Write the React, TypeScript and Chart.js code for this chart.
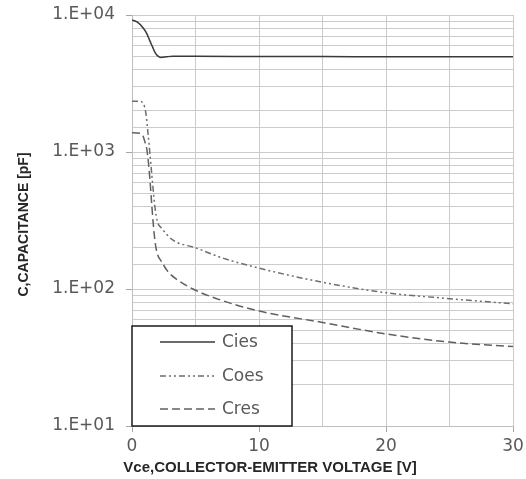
import React, { useEffect, useRef } from 'react';
import { Chart, registerables } from 'chart.js';

Chart.register(...registerables);

const ciesV = [0, 0.4, 0.9, 1.2, 1.4, 1.6, 1.8, 2.0, 2.3, 2.7, 3.2, 5, 10, 15, 20, 25, 30];
const ciesC = [9200, 8900, 8000, 7200, 6500, 5900, 5350, 5050, 4900, 4950, 5000, 4990, 4980, 4970, 4960, 4950, 4950];

const coesV = [0, 0.6, 0.9, 1.1, 1.25, 1.4, 1.6, 1.8, 2.0, 2.3, 3.2, 5, 7, 10, 15, 20, 25, 30];
const coesC = [2350, 2340, 2250, 1900, 1400, 1000, 620, 400, 310, 280, 228, 200, 170, 142, 112, 94, 85, 78];

const cresV = [0, 0.6, 0.85, 1.0, 1.2, 1.4, 1.55, 1.7, 1.85, 2.0, 2.3, 2.8, 3.5, 5, 7, 10, 15, 20, 25, 30];
const cresC = [1380, 1370, 1320, 1200, 1000, 650, 420, 280, 210, 180, 160, 135, 118, 98, 83, 69, 57, 47, 41, 38];

const seriesNames = ['Cies', 'Coes', 'Cres'];
const xMin = 0;
const xMax = 30;
const yMin = 10;
const yMax = 10000;
const xTitle = 'Vce,COLLECTOR-EMITTER VOLTAGE [V]';
const yTitle = 'C,CAPACITANCE [pF]';

const toPts = (xs: number[], ys: number[]) => xs.map((x, i) => ({ x, y: ys[i] }));

const isPow10 = (v: number) => {
  const l = Math.log10(v);
  return Math.abs(l - Math.round(l)) < 1e-9;
};

const extrasPlugin = {
  id: 'extras',
  afterDraw(chart: any) {
    const { ctx, chartArea } = chart;
    const ca = chartArea;
    ctx.save();
    // axis titles
    ctx.fillStyle = '#262626';
    ctx.font = 'bold 15px "Liberation Sans Narrow", "Liberation Sans", sans-serif';
    ctx.textAlign = 'center';
    ctx.textBaseline = 'middle';
    ctx.fillText(xTitle, 270, 468);
    ctx.save();
    ctx.translate(24, (ca.top + ca.bottom) / 2 + 4);
    ctx.rotate(-Math.PI / 2);
    ctx.font = 'bold 14px "Liberation Sans Narrow", "Liberation Sans", sans-serif';
    ctx.fillText(yTitle, 0, 0);
    ctx.restore();

    // legend box
    const bx = ca.left;
    const bw = 160;
    const bh = 100;
    const by = ca.bottom - bh;
    ctx.fillStyle = '#ffffff';
    ctx.fillRect(bx, by, bw, bh);
    ctx.strokeStyle = '#1a1a1a';
    ctx.lineWidth = 1.5;
    ctx.strokeRect(bx, by, bw, bh);
    const rows = [16, 50, 83];
    chart.data.datasets.forEach((ds: any, i: number) => {
      const y = by + rows[i];
      ctx.beginPath();
      ctx.setLineDash(ds.borderDash || []);
      ctx.strokeStyle = ds.borderColor;
      ctx.lineWidth = ds.borderWidth;
      ctx.moveTo(bx + 28, y);
      ctx.lineTo(bx + 83, y);
      ctx.stroke();
      ctx.setLineDash([]);
      ctx.fillStyle = '#595959';
      ctx.font = '17px "DejaVu Sans", sans-serif';
      ctx.textAlign = 'left';
      ctx.textBaseline = 'middle';
      ctx.fillText(ds.label, bx + 90, y + 1);
    });
    ctx.restore();
  },
};

export default function App() {
  const ref = useRef<HTMLCanvasElement | null>(null);
  useEffect(() => {
    if (!ref.current) return;
    const chart = new Chart(ref.current, {
      type: 'line',
      data: {
        datasets: [
          {
            label: seriesNames[0],
            data: toPts(ciesV, ciesC),
            borderColor: '#3a3a3a',
            borderWidth: 1.5,
            pointRadius: 0,
            cubicInterpolationMode: 'monotone',
          },
          {
            label: seriesNames[1],
            data: toPts(coesV, coesC),
            borderColor: '#6e6e6e',
            borderWidth: 1.5,
            borderDash: [6, 3, 2, 3, 2, 3],
            pointRadius: 0,
            cubicInterpolationMode: 'monotone',
          },
          {
            label: seriesNames[2],
            data: toPts(cresV, cresC),
            borderColor: '#606060',
            borderWidth: 1.5,
            borderDash: [8, 4],
            pointRadius: 0,
            cubicInterpolationMode: 'monotone',
          },
        ],
      },
      options: {
        animation: false,
        responsive: true,
        maintainAspectRatio: false,
        layout: { padding: { top: 15, right: 13, left: 0, bottom: 0 } },
        plugins: { legend: { display: false }, tooltip: { enabled: false } },
        scales: {
          x: {
            type: 'linear',
            min: xMin,
            max: xMax,
            afterFit: (s: any) => {
              s.height = 53;
              s.paddingLeft = 0;
              s.paddingRight = 0;
            },
            border: { color: '#bfbfbf', width: 1 },
            grid: {
              color: '#cccccc',
              lineWidth: 1,
              tickLength: 6,
              tickColor: (c: any) => (c.tick && c.tick.value % 10 === 0 ? '#a6a6a6' : 'rgba(0,0,0,0)'),
            },
            ticks: {
              stepSize: 5,
              autoSkip: false,
              maxRotation: 0,
              padding: 4,
              color: '#595959',
              font: { family: '"DejaVu Sans", sans-serif', size: 17 },
              callback: (v: any) => (Number(v) % 10 === 0 ? String(v) : ''),
            },
          },
          y: {
            type: 'logarithmic',
            min: yMin,
            max: yMax,
            afterFit: (s: any) => {
              s.width = 132;
              s.paddingTop = 0;
              s.paddingBottom = 0;
            },
            border: { color: '#bfbfbf', width: 1 },
            grid: {
              color: '#cccccc',
              lineWidth: 1,
              tickLength: 6,
              tickColor: (c: any) => (c.tick && isPow10(c.tick.value) ? '#a6a6a6' : 'rgba(0,0,0,0)'),
            },
            ticks: {
              autoSkip: false,
              padding: 11,
              color: '#595959',
              font: { family: '"DejaVu Sans", sans-serif', size: 17 },
              callback: (v: any) => {
                const n = Number(v);
                if (!isPow10(n)) return '';
                const e = Math.round(Math.log10(n));
                return '1.E+' + String(e).padStart(2, '0');
              },
            },
          },
        },
      },
      plugins: [extrasPlugin],
    } as any);
    return () => chart.destroy();
  }, []);
  return (
    <div style={{ position: 'absolute', left: 0, top: 0, width: 526, height: 479, background: '#fff' }}>
      <canvas ref={ref} />
    </div>
  );
}
